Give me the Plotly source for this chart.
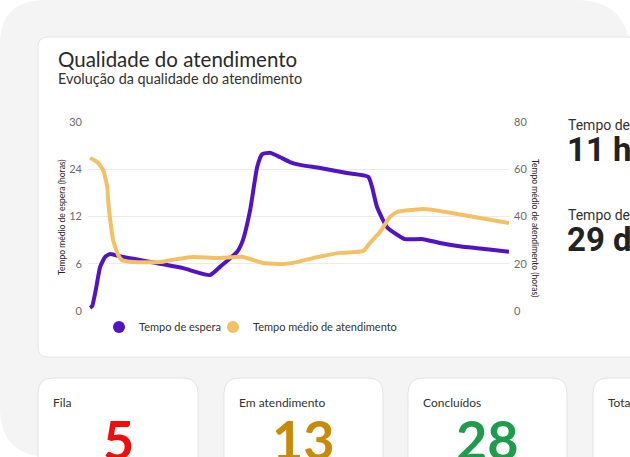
import plotly.graph_objects as go

# ---------------- data ----------------
espera_x = [0, 0.5, 1.4, 2.4, 3.6, 4.8, 7.6, 16.7, 22.2, 28.6, 31.0, 35.1, 36.5, 38.2, 39.9,
            41.1, 43.0, 45.4, 47.7, 50.1, 54.9, 61.3, 66.4, 67.3, 68.5, 70.9, 73.3, 75.2,
            79.5, 83.5, 89.0, 94.8, 100]
espera_y = [0.5, 0.8, 3.5, 7.0, 8.6, 9.05, 8.6, 7.5, 6.8, 5.7, 7.0, 9.4, 11.3, 16.0, 22.9,
            24.9, 25.1, 24.4, 23.65, 23.2, 22.7, 21.9, 21.3, 19.7, 16.5, 13.3, 12.1, 11.4,
            11.4, 10.8, 10.2, 9.8, 9.4]

atend_x = [0, 1.7, 3.1, 4.1, 4.3, 4.8, 5.5, 6.7, 7.6, 10.3, 16.7, 20.8, 24.6, 30.3, 36.5,
           38.9, 41.3, 46.1, 49.4, 53.2, 59.7, 65.2, 66.8, 69.2, 71.6, 73.3, 77.1, 79.5,
           81.9, 89.0, 100]
atend_y = [64.8, 63.1, 59.7, 52.5, 47.0, 38.5, 30.0, 23.7, 21.6, 20.7, 20.7, 22.0, 22.9,
           22.4, 22.9, 21.6, 20.3, 19.9, 20.7, 22.4, 24.6, 25.4, 28.8, 33.4, 39.8, 41.9,
           42.8, 43.2, 42.8, 40.6, 37.2]

left_tickvals = [0, 7.5, 15, 22.5, 30]
left_ticktext = ["0", "6", "12", "24", "30"]
right_tickvals = [0, 20, 40, 60, 80]

series_names = ["Tempo de espera", "Tempo médio de atendimento"]
series_colors = ["#5213c4", "#f5c063"]

stat_labels = ["Tempo de espera médio", "Tempo de atendimento médio"]
stat_values = ["11 horas", "29 dias"]

card_labels = ["Fila", "Em atendimento", "Concluídos", "Total"]
card_values = ["5", "13", "28", ""]
card_colors = ["#f20d0d", "#c98a0a", "#1d9c4b", "#333333"]

# ---------------- layout geometry (pixels) ----------------
W, H = 630, 457
L, R, T, B = 88, 509, 122, 311


def fx(X):
    return (X - L) / (R - L)


def fy(Y):
    return (B - Y) / (B - T)


def rrect(x0, y0, x1, y1, r):
    return (f"M{fx(x0+r)},{fy(y0)} L{fx(x1-r)},{fy(y0)} Q{fx(x1)},{fy(y0)} {fx(x1)},{fy(y0+r)} "
            f"L{fx(x1)},{fy(y1-r)} Q{fx(x1)},{fy(y1)} {fx(x1-r)},{fy(y1)} "
            f"L{fx(x0+r)},{fy(y1)} Q{fx(x0)},{fy(y1)} {fx(x0)},{fy(y1-r)} "
            f"L{fx(x0)},{fy(y0+r)} Q{fx(x0)},{fy(y0)} {fx(x0+r)},{fy(y0)} Z")


fig = go.Figure()

fig.add_trace(go.Scatter(x=espera_x, y=espera_y, mode="lines", name=series_names[0],
                         line=dict(color=series_colors[0], width=4, shape="spline", smoothing=0.5),
                         showlegend=False, yaxis="y"))
fig.add_trace(go.Scatter(x=atend_x, y=atend_y, mode="lines", name=series_names[1],
                         line=dict(color=series_colors[1], width=4, shape="spline", smoothing=0.5),
                         showlegend=False, yaxis="y2"))
for n, c, lg in zip(series_names, series_colors, ["legend", "legend2"]):
    fig.add_trace(go.Scatter(x=[None], y=[None], mode="markers", name=n, legend=lg,
                             marker=dict(color=c, size=12), showlegend=True))

shapes = []
# grey outer panel
panel = (f"M{fx(0)},{fy(45)} Q{fx(0)},{fy(0)} {fx(45)},{fy(0)} L{fx(575)},{fy(0)} "
         f"Q{fx(630)},{fy(0)} {fx(630)},{fy(55)} L{fx(630)},{fy(457)} L{fx(50)},{fy(457)} "
         f"Q{fx(0)},{fy(457)} {fx(0)},{fy(407)} Z")
shapes.append(dict(type="path", path=panel, xref="paper", yref="paper",
                   fillcolor="#f4f4f4", line=dict(width=0), layer="below"))
# chart card
shapes.append(dict(type="path", path=rrect(38, 37, 700, 357, 10), xref="paper", yref="paper",
                   fillcolor="white", line=dict(color="#e6e6e6", width=1), layer="below"))
# bottom cards
card_x = [(38, 198), (224, 383), (408, 567), (593, 760)]
for (x0, x1) in card_x:
    shapes.append(dict(type="path", path=rrect(x0, 378, x1, 520, 15), xref="paper", yref="paper",
                       fillcolor="white", line=dict(color="#e3e3e3", width=1), layer="below"))

ann = []
ann.append(dict(text="Qualidade do atendimento", x=fx(56), y=fy(59), xref="paper", yref="paper",
                xanchor="left", yanchor="middle", showarrow=False,
                font=dict(family="Lato", size=20.5, color="#2a2a2a")))
ann.append(dict(text="Evolução da qualidade do atendimento", x=fx(56), y=fy(78), xref="paper",
                yref="paper", xanchor="left", yanchor="middle", showarrow=False,
                font=dict(family="Lato", size=14.4, color="#333333")))
ann.append(dict(text="Tempo médio de espera (horas)", x=fx(55), y=fy(217), xref="paper",
                yref="paper", textangle=-90, showarrow=False,
                font=dict(family="Lato", size=8.5, color="#262626")))
ann.append(dict(text="Tempo médio de atendimento (horas)", x=fx(542), y=fy(228), xref="paper",
                yref="paper", textangle=90, showarrow=False,
                font=dict(family="Lato", size=8.5, color="#262626")))
for i, (lab, val) in enumerate(zip(stat_labels, stat_values)):
    y0 = 125 + i * 90
    ann.append(dict(text=lab, x=fx(566), y=fy(y0), xref="paper", yref="paper", xanchor="left",
                    yanchor="middle", showarrow=False,
                    font=dict(family="Roboto", size=14, color="#333333")))
    ann.append(dict(text=f"<b>{val}</b>", x=fx(565), y=fy(y0 + 24), xref="paper", yref="paper",
                    xanchor="left", yanchor="middle", showarrow=False,
                    font=dict(family="Roboto", size=33, color="#222222")))
for (x0, x1), lab, val, col in zip(card_x, card_labels, card_values, card_colors):
    ann.append(dict(text=lab, x=fx(x0 + 13), y=fy(402), xref="paper", yref="paper",
                    xanchor="left", yanchor="middle", showarrow=False,
                    font=dict(family="Lato", size=12, color="#333333")))
    if val:
        ann.append(dict(text=f"<b>{val}</b>", x=fx((x0 + x1) / 2), y=fy(439), xref="paper",
                        yref="paper", xanchor="center", yanchor="middle", showarrow=False,
                        font=dict(family="Lato", size=54, color=col)))

legend_common = dict(orientation="h", xanchor="left", yanchor="middle", y=fy(327),
                     font=dict(family="Lato", size=11, color="#333333"), itemwidth=30,
                     bgcolor="rgba(0,0,0,0)", borderwidth=0)

fig.update_layout(
    width=W, height=H,
    margin=dict(l=L, r=W - R, t=T, b=H - B, pad=0),
    paper_bgcolor="white", plot_bgcolor="rgba(0,0,0,0)",
    font=dict(family="Lato", color="#666666"),
    shapes=shapes, annotations=ann,
    xaxis=dict(range=[-0.5, 100], visible=False),
    yaxis=dict(range=[0, 30], tickvals=left_tickvals, ticktext=left_ticktext,
               showgrid=True, gridcolor="#ebebeb", gridwidth=1, zeroline=False,
               showline=False, ticks="", ticklabelstandoff=5,
               tickfont=dict(family="Lato", size=11, color="#6b6b6b")),
    yaxis2=dict(range=[0, 80], tickvals=right_tickvals, overlaying="y", side="right",
                showgrid=False, zeroline=False, showline=False, ticks="", ticklabelstandoff=4,
                tickfont=dict(family="Lato", size=11, color="#6b6b6b")),
    legend=dict(x=fx(99), **legend_common),
    legend2=dict(x=fx(213), **legend_common),
    showlegend=True,
)

fig.write_html("out.html", config={"displayModeBar": False},
               post_script="document.body.style.margin='0';document.body.style.overflow='hidden';")
